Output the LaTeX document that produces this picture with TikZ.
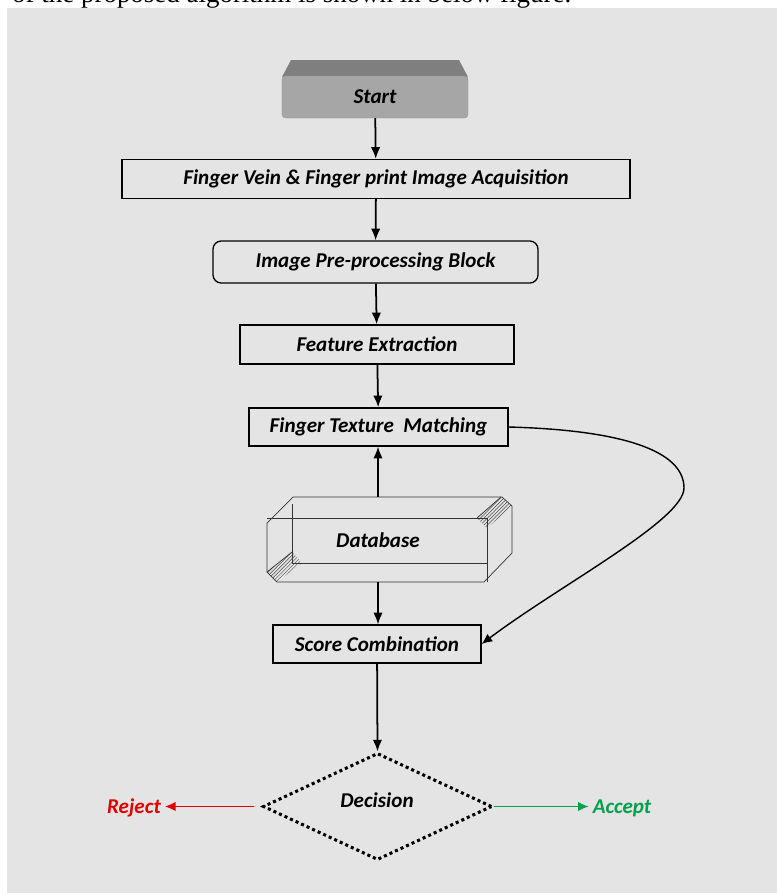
\documentclass[tikz,border=0pt]{standalone}
\usepackage{fontspec}
\setmainfont{Carlito}
\newfontfamily\bodyfont{Liberation Serif}
\usetikzlibrary{arrows.meta,shapes.geometric,patterns}
\definecolor{panel}{HTML}{E4E4E4}
\definecolor{startface}{HTML}{A6A6A6}
\definecolor{starttop}{HTML}{7F7F7F}
\definecolor{rejectred}{HTML}{E00000}
\definecolor{acceptgreen}{HTML}{00A14B}
\tikzset{
  lbl/.style={font=\fontsize{18}{21}\selectfont\bfseries\itshape},
  stepbox/.style={lbl, draw, line width=1.1pt, inner sep=0pt},
  flow/.style={-{Latex[length=10pt,width=8pt]}, line width=1.5pt},
  dbline/.style={line width=0.6pt, draw=black!80},
  decbox/.style={diamond, draw, line width=2.6pt, dash pattern=on 2.6pt off 2.6pt,
    inner sep=0pt, minimum width=6.87cm, minimum height=3.21cm},
}
\begin{document}
\begin{tikzpicture}[x=0.03cm,y=-0.03cm]
\useasboundingbox (0,0) rectangle (777,893);
\clip (0,0) rectangle (777,893);
\fill[panel] (7,8) rectangle (777,893);
\node[anchor=base west, font=\bodyfont\fontsize{23}{27}\selectfont, inner sep=0pt] (caption) at (12,2) {of the proposed algorithm is shown in below figure.};

% start block
\fill[starttop] (291,60) -- (459,60) -- (468,77) -- (282,77) -- cycle;
\node[lbl, fill=startface, draw=gray!80, rounded corners=3pt, inner sep=0pt,
  minimum width=5.58cm, minimum height=1.26cm] (start) at (375,97) {Start};

\node[stepbox, minimum width=15.24cm, minimum height=1.17cm] (acq) at (376,179) {Finger Vein \& Finger print Image Acquisition};
\node[stepbox, rounded corners=7pt, minimum width=9.75cm, minimum height=1.26cm] (pre) at (375.5,262) {Image Pre-processing Block};
\node[stepbox, minimum width=8.22cm, minimum height=1.17cm] (feat) at (377,344.5) {Feature Extraction};
\node[stepbox, minimum width=7.77cm, minimum height=1.14cm] (match) at (378.5,427) {Finger Texture~~Matching};

% database
\fill[pattern=north east lines, pattern color=black!70] (477,518) -- (501,497) -- (512,506) -- (487,528) -- cycle;
\fill[pattern=north east lines, pattern color=black!70] (267,572) -- (292,552) -- (302,563) -- (277,582) -- cycle;
\draw[dbline] (293,497) -- (502,497) -- (512,506) -- (512,553) -- (484,582) -- (277,582) -- (267,572) -- (267,523) -- cycle;
\draw[dbline] (267,518) -- (487,518) -- (487,582);
\draw[dbline] (292,504) -- (292,563) -- (487,563);
\draw[dbline] (477,518) -- (501,497);
\draw[dbline] (292,552) -- (267,572);
\coordinate (dbtop) at (378,497);
\coordinate (dbbot) at (378,582);
\node[lbl] (db) at (378,540) {Database};

\node[stepbox, minimum width=6.24cm, minimum height=1.14cm] (score) at (377,644) {Score Combination};

\node[decbox] (dec) at (377.5,806.5) {};
\node[lbl] (dectext) at (377,800) {Decision};
\node[lbl, text=rejectred] (reject) at (134,808) {Reject};
\node[lbl, text=acceptgreen] (accept) at (622,808) {Accept};

\draw[flow] (start) -- (acq);
\draw[flow] (acq) -- (pre);
\draw[flow] (pre) -- (feat);
\draw[flow] (feat) -- (match);
\draw[flow] (dbtop) -- (match.south -| dbtop);
\draw[flow] (dbbot) -- (score.north -| dbbot);
\draw[flow] (score) -- (dec.north);
\draw[-{Latex[length=9pt,width=8pt]}, line width=1.2pt] (match.east) .. controls (620,430) and (684,450) .. (684,488)
  .. controls (684,520) and (560,585) .. (score.east);
\draw[-{Latex[length=9pt,width=8pt]}, line width=1.2pt, draw=rejectred, fill=rejectred] ([xshift=-6pt]dec.west) -- (reject.east |- dec.west);
\draw[-{Latex[length=9pt,width=8pt]}, line width=1.2pt, draw=acceptgreen, fill=acceptgreen] (dec.east) -- (accept.west |- dec.east);
\end{tikzpicture}
\end{document}
